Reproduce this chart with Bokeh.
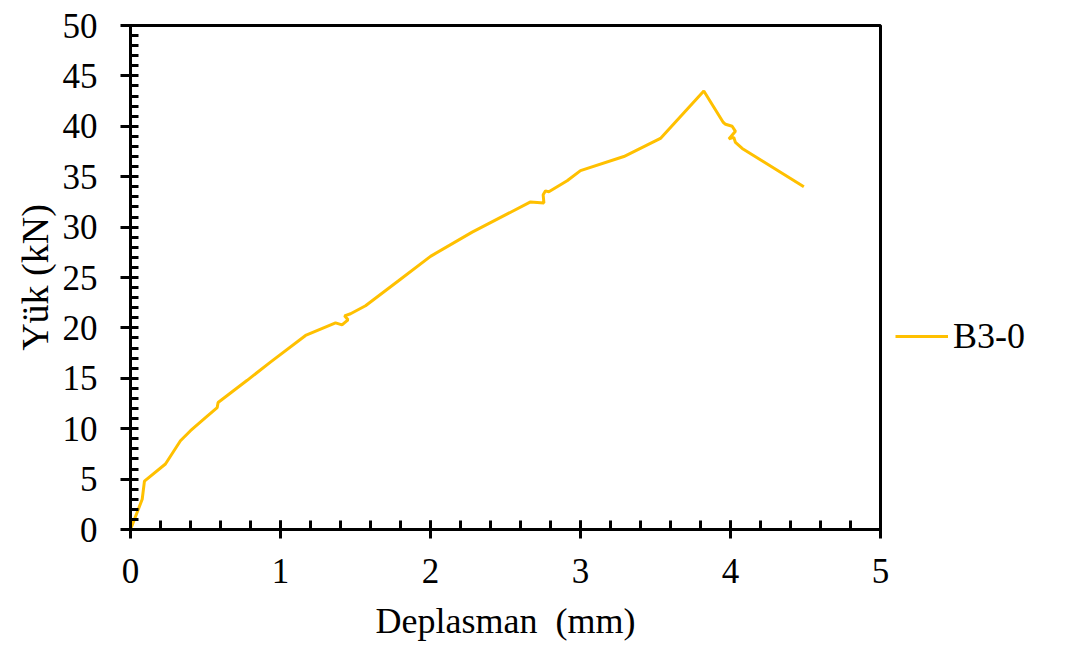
from bokeh.plotting import figure
from bokeh.models import Range1d, SingleIntervalTicker, Legend, LegendItem
from bokeh.embed import file_html
from bokeh.resources import INLINE

# Data
series_name = "B3-0"
disp = [0, 0.078, 0.093, 0.233, 0.333, 0.4, 0.5, 0.578, 0.584, 0.778, 0.933,
        1.167, 1.367, 1.41, 1.45, 1.427, 1.467, 1.567, 1.789, 2.0, 2.278,
        2.667, 2.756, 2.751, 2.767, 2.789, 2.911, 3.0, 3.289, 3.533, 3.822,
        3.951, 3.967, 4.011, 4.033, 3.989, 4.022, 4.033, 4.078, 4.489]
load = [0, 3.0, 4.8, 6.5, 8.8, 9.8, 11.1, 12.1, 12.6, 14.8, 16.6,
        19.25, 20.5, 20.3, 20.8, 21.2, 21.4, 22.2, 24.7, 27.1, 29.5,
        32.5, 32.4, 33.2, 33.6, 33.5, 34.6, 35.6, 37.0, 38.8, 43.5,
        40.4, 40.2, 40.0, 39.5, 38.75, 38.9, 38.4, 37.8, 34.0]
x_title = "Deplasman\u00a0 (mm)"
y_title = "Yük (kN)"

FONT = "Liberation Serif"
GOLD = "#FFC000"

p = figure(width=1070, height=645, output_backend="svg", toolbar_location=None,
           x_range=Range1d(0, 5), y_range=Range1d(0, 50),
           frame_width=750, frame_height=504,
           min_border_left=130, min_border_top=25, min_border_right=190,
           min_border_bottom=116)
p.background_fill_color = "white"
p.border_fill_color = "white"
p.outline_line_color = "black"
p.outline_line_width = 3
p.xgrid.visible = False
p.ygrid.visible = False

r = p.line(disp, load, line_color=GOLD, line_width=3)

p.xaxis.ticker = SingleIntervalTicker(interval=1, num_minor_ticks=5)
p.yaxis.ticker = SingleIntervalTicker(interval=5, num_minor_ticks=5)

for ax in (p.xaxis, p.yaxis):
    ax.axis_line_width = 3
    ax.axis_line_color = "black"
    ax.major_tick_line_width = 3
    ax.minor_tick_line_width = 3
    ax.major_tick_line_color = "black"
    ax.minor_tick_line_color = "black"
    ax.major_label_text_font = FONT
    ax.major_label_text_font_size = "35px"
    ax.major_label_text_color = "black"
    ax.axis_label_text_font = FONT
    ax.axis_label_text_font_style = "normal"
    ax.axis_label_text_color = "black"

p.xaxis.major_tick_in = 9
p.xaxis.major_tick_out = 9
p.xaxis.minor_tick_in = 9
p.xaxis.minor_tick_out = 0
p.xaxis.major_label_standoff = 20
p.xaxis.axis_label = x_title
p.xaxis.axis_label_text_font_size = "36px"
p.xaxis.axis_label_standoff = 15

p.yaxis.major_tick_in = 7
p.yaxis.major_tick_out = 10
p.yaxis.minor_tick_in = 8
p.yaxis.minor_tick_out = 0
p.yaxis.major_label_standoff = 23
p.yaxis.axis_label = y_title
p.yaxis.axis_label_text_font_size = "38px"
p.yaxis.axis_label_standoff = 4

legend = Legend(items=[LegendItem(label=series_name, renderers=[r])],
                location=(15, 172), orientation="vertical",
                glyph_width=53, glyph_height=40, label_standoff=5,
                padding=0, margin=0, spacing=0,
                border_line_color=None, background_fill_alpha=0,
                label_text_font=FONT, label_text_font_size="36px",
                label_text_color="black")
p.add_layout(legend, "right")

open("out.html", "w").write(file_html(p, INLINE))
